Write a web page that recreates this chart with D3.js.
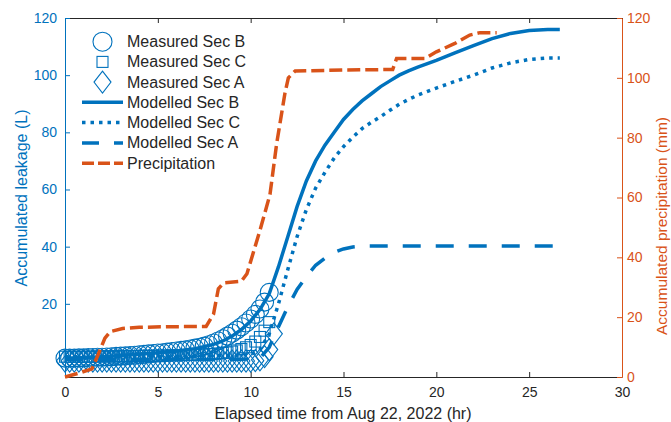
<!DOCTYPE html>
<html><head><meta charset="utf-8">
<script src="https://cdn.jsdelivr.net/npm/d3@7"></script>
<style>body{margin:0;background:#fff}svg{display:block;font-family:"Liberation Sans",Arial,sans-serif}</style>
</head><body><svg id="c" width="671" height="422"></svg>
<script>
// ---- data ----
const xTicks = [0,5,10,15,20,25,30];
const yLeftTicks = [20,40,60,80,100,120];
const yRightTicks = [0,20,40,60,80,100,120];

const measT = [0,0.25,0.5,0.75,1,1.25,1.5,1.75,2,2.25,2.5,2.75,3,3.25,3.5,3.75,4,4.25,4.5,4.75,5,5.25,5.5,5.75,6,6.25,6.5,6.75,7,7.25,7.5,7.75,8,8.25,8.5,8.75,9,9.25,9.5,9.75,10,10.25,10.5,10.75,11,11.25];
const measB = [1.0,1.0,1.0,1.1,1.1,1.2,1.2,1.3,1.3,1.4,1.5,1.6,1.7,1.8,1.9,2.0,2.2,2.3,2.5,2.6,2.8,2.9,3.1,3.3,3.5,3.7,3.9,4.2,4.5,4.8,5.2,5.7,6.3,7.0,7.8,8.7,9.7,10.8,12.0,13.3,14.7,16.3,18.2,20.6,24.0];
const measC = [1.5,1.5,1.5,1.5,1.5,1.5,1.5,1.6,1.6,1.6,1.6,1.6,1.7,1.7,1.7,1.7,1.8,1.8,1.8,1.8,1.9,1.9,1.9,2.0,2.0,2.0,2.1,2.1,2.2,2.2,2.3,2.4,2.5,2.6,2.8,3.0,3.3,3.7,4.2,4.8,5.6,6.8,8.4,10.6,13.6];
const measA = [0,0,0,0,0,0,0,0,0,0,0,0,0,0,0,0,0,0,0,0,0,0,0,0,0,0,0,0,0,0,0,0,0,0,0,0,0,0,0,0,0,0.1,0.4,1.5,4.0,9.5];

const modelT = [0,1,2,3,4,5,6,7,8,8.5,9,9.5,10,10.5,11,11.5,12,12.5,13,13.5,14,14.5,15,15.5,16,16.5,17,17.5,18,18.5,19,20,21,22,23,24,25,26,26.65];
const modelB = [1.0,1.2,1.5,1.9,2.4,2.9,3.5,4.3,5.8,7.0,8.7,11,14,18,23.5,33,43.5,54,63,70,75.5,80,84.5,88,91,93.5,96,98,100,101.5,102.8,105.2,107.8,110.3,112.8,114.6,115.6,116,116];
const modelC = [1.5,1.5,1.5,1.5,1.6,1.6,1.7,1.7,1.8,1.9,2.0,2.1,2.2,4,9.5,20,32,43.5,53,60.5,66,71,75,78.3,81.3,83.5,85.5,87.7,89.8,91.5,93,95.5,97.8,100,102.5,104.3,105.5,106,106];
const modelA = [0.5,0.5,0.5,0.5,0.5,0.5,0.5,0.5,0.5,0.5,0.5,0.6,0.7,1.0,4.8,12,19,25,29.5,33.5,36,38,39.2,39.9,40.2,40.2,40.2,40.2,40.2,40.2,40.2,40.2,40.2,40.2,40.2,40.2,40.2,40.2,40.2];

const precipT = [0,0.7,1.45,1.8,2.15,2.45,3.1,4,5.5,7.6,8.0,8.26,8.55,9.5,9.8,10.5,11.04,11.4,11.85,12.03,12.4,15,17.65,17.86,19.39,20.0,21.0,21.8,22.35,23.25];
const precipV = [0,1.2,2.7,7.7,13,15.2,16.2,16.6,16.8,16.9,21,29.5,31.5,32,34.5,49,61,78,95,100,102.3,102.6,102.8,106.5,106.5,108.7,111.5,114.3,115.1,115.1];

const legendLabels = ["Measured Sec B","Measured Sec C","Measured Sec A","Modelled Sec B","Modelled Sec C","Modelled Sec A","Precipitation"];

// ---- drawing ----
const BLUE = "#0072BD", ORANGE = "#D95319", DARK = "#262626";
const L = 65, R = 622, T = 18, B = 377;
const svg = d3.select("#c");
svg.append("rect").attr("width",671).attr("height",422).attr("fill","#fff");

const x = d3.scaleLinear().domain([0,30]).range([L,R]);
const yL = d3.scaleLinear().domain([-5.6,120]).range([B,T]);
const yR = d3.scaleLinear().domain([0,120]).range([B,T]);

function styleAxis(g, color, fs){
  g.select(".domain").attr("stroke",color).attr("stroke-width",1);
  g.selectAll(".tick line").attr("stroke",color);
  g.selectAll(".tick text").attr("fill",color).attr("font-size",fs).attr("font-family","Liberation Sans, Arial, sans-serif");
}
const gx = svg.append("g").attr("transform",`translate(0,${B})`)
  .call(d3.axisBottom(x).tickValues(xTicks).tickSizeInner(-5).tickSizeOuter(0).tickPadding(10));
styleAxis(gx, DARK, 14);
const gxt = svg.append("g").attr("transform",`translate(0,${T})`)
  .call(d3.axisTop(x).tickValues(xTicks).tickSizeInner(-5).tickSizeOuter(0).tickFormat(""));
styleAxis(gxt, DARK, 14);
const gyl = svg.append("g").attr("transform",`translate(${L},0)`)
  .call(d3.axisLeft(yL).tickValues(yLeftTicks).tickSizeInner(-5).tickSizeOuter(0).tickPadding(8));
styleAxis(gyl, BLUE, 14);
const gyr = svg.append("g").attr("transform",`translate(${R},0)`)
  .call(d3.axisRight(yR).tickValues(yRightTicks).tickSizeInner(-5).tickSizeOuter(0).tickPadding(5));
styleAxis(gyr, ORANGE, 14);

svg.append("text").attr("x",343).attr("y",413).attr("text-anchor","middle").attr("dominant-baseline","central")
  .attr("font-size",16).attr("fill",DARK).text("Elapsed time from Aug 22, 2022 (hr)");
svg.append("text").attr("transform","translate(21,198) rotate(-90)").attr("text-anchor","middle").attr("dominant-baseline","central")
  .attr("font-size",16).attr("fill",BLUE).text("Accumulated leakage (L)");
svg.append("text").attr("transform","translate(661,226) rotate(-90)").attr("text-anchor","middle").attr("dominant-baseline","central")
  .attr("font-size",15.5).attr("fill",ORANGE).text("Accumulated precipitation (mm)");

const diamond = (cx,cy)=>`M${cx},${cy-11}L${cx+8.5},${cy}L${cx},${cy+11}L${cx-8.5},${cy}Z`;
const mk = svg.append("g").attr("fill","none").attr("stroke",BLUE).attr("stroke-width",1.1);
mk.selectAll("circle.mb").data(measB).join("circle").attr("class","mb")
  .attr("cx",(d,i)=>x(measT[i])).attr("cy",d=>yL(d)).attr("r",9);
mk.selectAll("rect.mc").data(measC).join("rect").attr("class","mc")
  .attr("x",(d,i)=>x(measT[i])-5.5).attr("y",d=>yL(d)-5.5).attr("width",11).attr("height",11);
mk.selectAll("path.ma").data(measA).join("path").attr("class","ma")
  .attr("d",(d,i)=>diamond(x(measT[i]), yL(d)));

const lineL = d3.line().x(d=>x(d[0])).y(d=>yL(d[1]));
const zip = (a,b)=>a.map((t,i)=>[t,b[i]]);
svg.append("path").attr("d",lineL(zip(modelT,modelB))).attr("fill","none").attr("stroke",BLUE).attr("stroke-width",3.5);
svg.append("path").attr("d",lineL(zip(modelT,modelC))).attr("fill","none").attr("stroke",BLUE).attr("stroke-width",3.5).attr("stroke-dasharray","3.5,5");
svg.append("path").attr("d",lineL(zip(modelT,modelA))).attr("fill","none").attr("stroke",BLUE).attr("stroke-width",3.5).attr("stroke-dasharray","18,15");
const lineR = d3.line().x(d=>x(d[0])).y(d=>yR(d[1]));
svg.append("path").attr("d",lineR(zip(precipT,precipV))).attr("fill","none").attr("stroke",ORANGE).attr("stroke-width",3.5).attr("stroke-dasharray","13,5");

const lg = svg.append("g");
const rowY = [41.7,61.9,82.1,102.3,122.6,142.9,163.2];
const lx0 = 82, lx1 = 123, lxc = 102.5;
lg.append("circle").attr("cx",lxc).attr("cy",rowY[0]).attr("r",9.5).attr("fill","none").attr("stroke",BLUE).attr("stroke-width",1.1);
lg.append("rect").attr("x",lxc-5.5).attr("y",rowY[1]-5.5).attr("width",11).attr("height",11).attr("fill","none").attr("stroke",BLUE).attr("stroke-width",1.1);
lg.append("path").attr("d",diamond(lxc,rowY[2])).attr("fill","none").attr("stroke",BLUE).attr("stroke-width",1.1);
const legLines = [[3,BLUE,null],[4,BLUE,"3.5,5"],[5,BLUE,"17,15"],[6,ORANGE,"12,4"]];
legLines.forEach(([r,c,da])=>{
  const p = lg.append("line").attr("x1",lx0).attr("x2",lx1).attr("y1",rowY[r]).attr("y2",rowY[r]).attr("stroke",c).attr("stroke-width",3.5);
  if(da) p.attr("stroke-dasharray",da);
});
lg.selectAll("text").data(legendLabels).join("text").attr("x",127).attr("y",(d,i)=>rowY[i]).attr("dominant-baseline","central")
  .attr("font-size",16).attr("fill",DARK).text(d=>d);
</script></body></html>
